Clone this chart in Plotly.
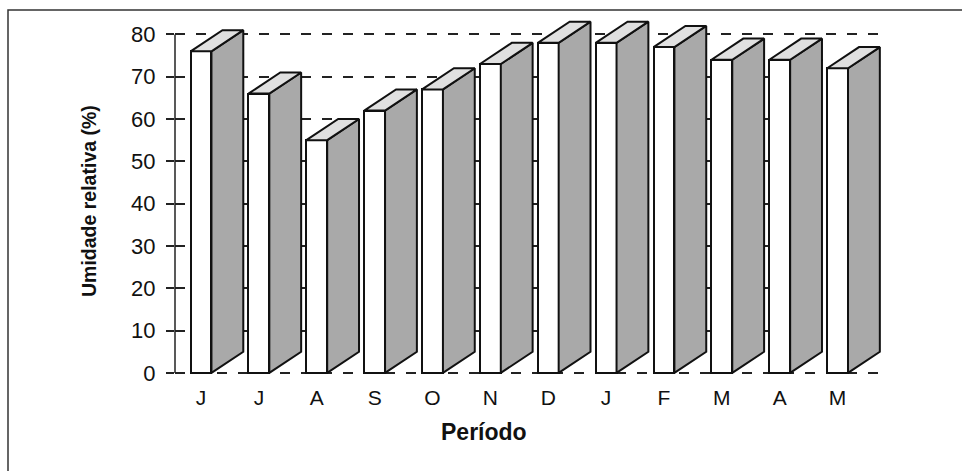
import plotly.graph_objects as go

months = ["J", "J", "A", "S", "O", "N", "D", "J", "F", "M", "A", "M"]
humidity = [76, 66, 55, 62, 67, 73, 78, 78, 77, 74, 74, 72]
y_ticks = [0, 10, 20, 30, 40, 50, 60, 70, 80]

W, H = 962, 471
L, R, T, B = 175, 81, 9, 96
YR = [-0.5, 86]
XR = [-0.45, 11.75]

FRONT_W = 0.36   # front face width (category units)
DX = 0.55        # depth offset in x (category units)
DY = 5.0         # depth offset in y (data units)
SIDE = "#a9a9a9"
TOP = "#e0e0e0"
EDGE = "#111111"
FONT = "Liberation Sans, Arial, sans-serif"

xs = list(range(len(months)))
fig = go.Figure()

# front faces
fig.add_trace(go.Bar(
    x=xs, y=humidity, width=FRONT_W,
    marker=dict(color="white", line=dict(color=EDGE, width=2)),
    showlegend=False, hoverinfo="skip"))

# side and top faces built from the data values
for x, v in zip(xs, humidity):
    x1 = x + FRONT_W / 2
    x0 = x - FRONT_W / 2
    fig.add_trace(go.Scatter(
        x=[x1, x1 + DX, x1 + DX, x1, x1],
        y=[0, DY, v + DY, v, 0],
        mode="lines", fill="toself", fillcolor=SIDE,
        line=dict(color=EDGE, width=2), showlegend=False, hoverinfo="skip"))
    fig.add_trace(go.Scatter(
        x=[x0, x1, x1 + DX, x0 + DX, x0],
        y=[v, v, v + DY, v + DY, v],
        mode="lines", fill="toself", fillcolor=TOP,
        line=dict(color=EDGE, width=2), showlegend=False, hoverinfo="skip"))

pw = W - L - R
ph = H - T - B

def px_x(p):
    return (p - L) / pw

def px_y(p):
    return (H - B - p) / ph

fig.update_layout(
    width=W, height=H,
    margin=dict(l=L, r=R, t=T, b=B, pad=0),
    paper_bgcolor="white", plot_bgcolor="white",
    font=dict(family=FONT, color="#111111"),
    bargap=0,
    xaxis=dict(
        range=XR, tickvals=xs, ticktext=months, showgrid=False,
        zeroline=False, showline=False, ticks="",
        tickfont=dict(size=21), ticklabelstandoff=8,
        fixedrange=True),
    yaxis=dict(
        range=YR, tickvals=y_ticks, showgrid=True, gridcolor="#222222",
        gridwidth=1.6, griddash="10px,11px", zeroline=False, showline=False,
        ticks="outside", ticklen=8, tickwidth=1.5, tickcolor="#222222",
        tickfont=dict(size=22), ticklabelstandoff=6,
        fixedrange=True),
    annotations=[
        dict(text="<b>Período</b>", xref="paper", yref="paper",
             x=px_x(484), y=px_y(432), xanchor="center", yanchor="middle",
             showarrow=False, font=dict(size=23)),
        dict(text="<b>Umidade relativa (%)</b>", xref="paper", yref="paper",
             x=px_x(89), y=px_y(201), xanchor="center", yanchor="middle",
             textangle=-90, showarrow=False, font=dict(size=19.5)),
    ],
    shapes=[
        # y axis line (0 to 80)
        dict(type="line", xref="paper", yref="y", x0=0, x1=0, y0=0, y1=80,
             line=dict(color="#222222", width=1.5), layer="below"),
        # outer frame
        dict(type="rect", xref="paper", yref="paper",
             x0=px_x(8), x1=px_x(975), y0=px_y(485), y1=px_y(10),
             line=dict(color="#333333", width=1.5)),
    ],
)

fig.write_html(
    "out.html",
    config={"displayModeBar": False},
    post_script="document.body.style.margin='0';document.body.style.overflow='hidden';",
)
